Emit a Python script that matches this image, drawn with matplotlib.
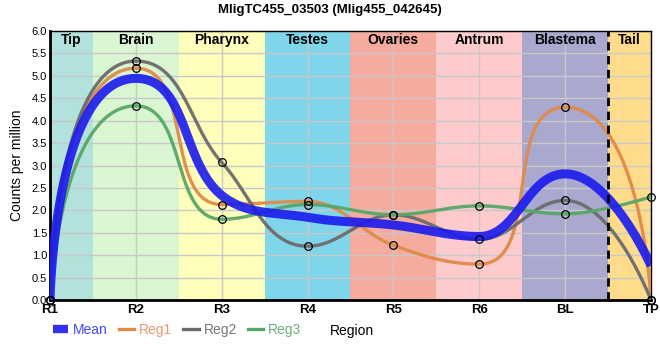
import numpy as np
import matplotlib
matplotlib.use("Agg")
import matplotlib.pyplot as plt
from matplotlib.lines import Line2D

plt.rcParams["font.family"] = ["Liberation Sans", "DejaVu Sans"]

# ---------------------------------------------------------------------------
# Data
# ---------------------------------------------------------------------------
TITLE = "MligTC455_03503 (Mlig455_042645)"
positions = ["R1", "R2", "R3", "R4", "R5", "R6", "BL", "TP"]
reg1 = [0.0, 5.17, 2.13, 2.20, 1.22, 0.80, 4.30, 0.0]
reg2 = [0.0, 5.33, 3.07, 1.20, 1.90, 1.35, 2.22, 0.0]
reg3 = [0.0, 4.33, 1.80, 2.13, 1.90, 2.10, 1.92, 2.30]

regions = ["Tip", "Brain", "Pharynx", "Testes", "Ovaries", "Antrum", "Blastema", "Tail"]
region_colors = ["#b3e2dc", "#d9f5d1", "#ffffbb", "#7fd5ea",
                 "#f5ab9e", "#fdcbcb", "#a9a8cf", "#fedc8c"]

OUT = "out.png"
PX_X = 601 / 7   # pixels per x step
PX_Y = 269 / 6   # pixels per y unit


# ---------------------------------------------------------------------------
# Helpers
# ---------------------------------------------------------------------------
def _handle(p, u, length, dx, ylim):
    if u is None:
        return p.copy()
    v = u * length
    if abs(v[0]) > 0.95 * dx:
        v = v * (0.95 * dx / abs(v[0]))
    q = p + v
    # keep the control point within the neighbour's y range
    lo, hi = min(p[1], ylim), max(p[1], ylim)
    if q[1] < lo or q[1] > hi:
        lim = lo if q[1] < lo else hi
        v = v * ((lim - p[1]) / v[1])
        q = p + v
    return q


def smooth_path(x, y, k=0.36, n=80):
    """Bezier spline, flat at local extremes, handles scaled by segment length."""
    px = np.asarray(x, float) * PX_X
    py = np.asarray(y, float) * PX_Y
    m = len(px)
    tang = [None] * m
    for i in range(1, m - 1):
        if (py[i] - py[i - 1]) * (py[i + 1] - py[i]) <= 0:
            u = np.array([1.0, 0.0])
        else:
            s = (py[i + 1] - py[i - 1]) / (px[i + 1] - px[i - 1])
            u = np.array([1.0, s]) / np.hypot(1.0, s)
        tang[i] = u
    t = np.linspace(0, 1, n)[:, None]
    out = []
    for i in range(m - 1):
        p0 = np.array([px[i], py[i]])
        p3 = np.array([px[i + 1], py[i + 1]])
        dx = p3[0] - p0[0]
        L = k * np.hypot(*(p3 - p0))
        p1 = _handle(p0, tang[i], L, dx, p3[1])
        u2 = None if tang[i + 1] is None else -tang[i + 1]
        p2 = _handle(p3, u2, L, dx, p0[1])
        b = ((1 - t) ** 3) * p0 + 3 * ((1 - t) ** 2) * t * p1 \
            + 3 * (1 - t) * t ** 2 * p2 + t ** 3 * p3
        out.append(b)
    out = np.vstack(out)
    return out[:, 0] / PX_X, out[:, 1] / PX_Y


def main():
    x = np.arange(len(positions))
    mean = np.mean([reg1, reg2, reg3], axis=0)

    fig = plt.figure(figsize=(6.6, 3.6), dpi=100)
    ax = fig.add_axes([50 / 660, 1 - 300 / 360, 601 / 660, 269 / 360])

    # ---- Background region bands ----
    edges = [0, 0.5, 1.5, 2.5, 3.5, 4.5, 5.5, 6.5, 7]
    for i, (name, col) in enumerate(zip(regions, region_colors)):
        ax.axvspan(edges[i], edges[i + 1], color=col, zorder=0, lw=0)
        ax.text((edges[i] + edges[i + 1]) / 2, 5.8, name, ha="center", va="center",
                fontsize=10, fontweight="bold", zorder=5)
    ax.axvline(6.5, color="black", ls=(0, (3, 2)), lw=2, zorder=4)

    # ---- Lines ----
    series = [("Reg1", reg1, "#e08a4a"), ("Reg2", reg2, "#6b6b6b"), ("Reg3", reg3, "#58a668")]
    for name, vals, col in series:
        cx, cy = smooth_path(x, vals)
        ax.plot(cx, cy, color=col, lw=2.4, alpha=0.95, zorder=3)
    cx, cy = smooth_path(x, mean)
    ax.plot(cx, cy, color="#1a1aee", lw=6.5, alpha=0.9, zorder=3, solid_capstyle="butt")
    for name, vals, col in series:
        ax.plot(x, vals, "o", ms=5.5, mfc="none", mec="black", mew=0.9, zorder=6,
                clip_on=False)

    # ---- Axes ----
    ax.set_xlim(0, 7)
    ax.set_ylim(0, 6)
    ax.set_xticks(x)
    ax.set_xticklabels(positions, fontsize=9.5, fontweight="bold")
    yt = np.arange(0, 6.01, 0.5)
    ax.set_yticks(yt)
    ax.set_yticklabels([f"{v:.1f}" for v in yt], fontsize=8)
    ax.tick_params(axis="both", length=0, pad=2)
    ax.tick_params(axis="x", pad=3)
    ax.grid(True, color="#c8c8c8", lw=1)
    for gl in ax.get_xgridlines() + ax.get_ygridlines():
        gl.set_zorder(1)
    ax.spines["left"].set_linewidth(2)
    ax.spines["bottom"].set_linewidth(2)
    ax.spines["top"].set_linewidth(1)
    ax.spines["right"].set_linewidth(1)
    ax.set_ylabel("Counts per million", fontsize=10, labelpad=6)
    fig.text(0.5, 1 - 10 / 360, TITLE, fontsize=9.5, fontweight="bold",
             ha="center", va="center")

    # ---- Legend ----
    handles = [Line2D([], [], color="#1a1aee", lw=6, alpha=0.9, solid_capstyle="butt"),
               Line2D([], [], color="#e08a4a", lw=2.4),
               Line2D([], [], color="#6b6b6b", lw=2.4),
               Line2D([], [], color="#58a668", lw=2.4)]
    labels = ["Mean", "Reg1", "Reg2", "Reg3"]
    leg = fig.legend(handles, labels, loc="center left",
                     bbox_to_anchor=(53 / 660, 1 - 330 / 360),
                     ncol=4, frameon=False, fontsize=10, handlelength=1.1,
                     handletextpad=0.35, columnspacing=0.8, borderaxespad=0, borderpad=0)
    for txt, col in zip(leg.get_texts(), ["#4444ff", "#e89a68", "#777777", "#6ab07a"]):
        txt.set_color(col)
    fig.text(330 / 660, 1 - 331 / 360, "Region", fontsize=10, ha="left", va="center")

    fig.savefig(OUT, dpi=100)
    plt.close(fig)


if __name__ == "__main__":
    main()
